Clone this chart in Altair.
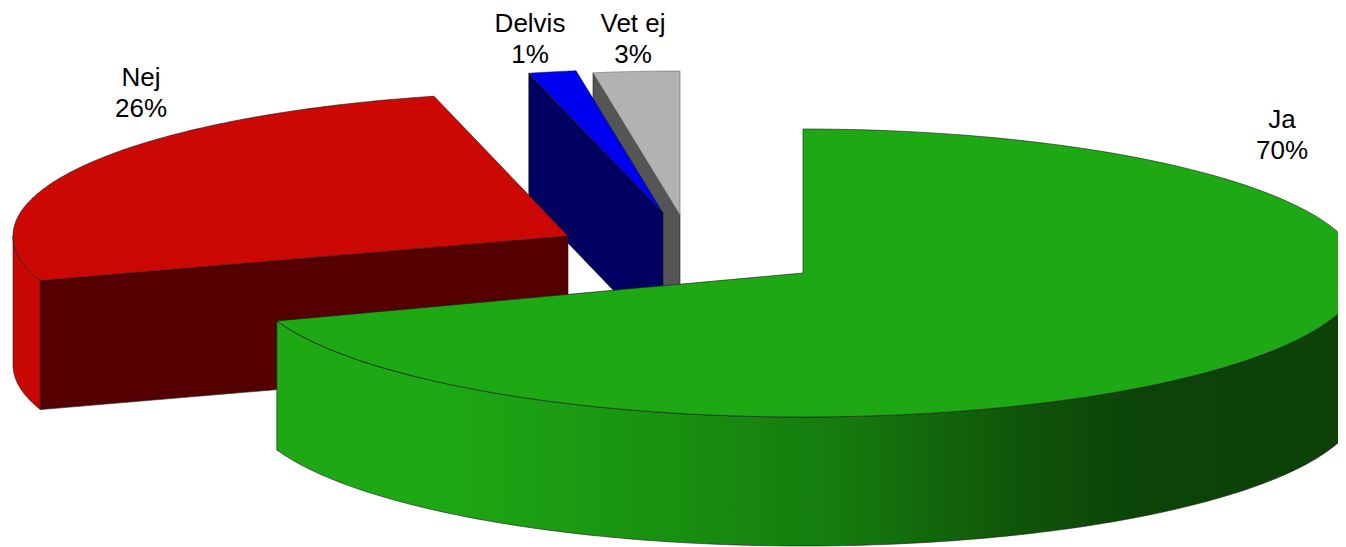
import numpy as np
import pandas as pd
import altair as alt

categories = ["Ja", "Nej", "Delvis", "Vet ej"]
shares = [69.6, 26.52, 1.38, 2.5]
label_pct = ["70%", "26%", "1%", "3%"]

RX, RY, DEPTH = 556.0, 144.0, 129.0
explode_apex = {"Ja": (803, 273), "Nej": (568, 236), "Delvis": (663, 213), "Vet ej": (680, 215)}
label_xy = {"Ja": (1282, 120), "Nej": (141, 78), "Delvis": (530, 24), "Vet ej": (633, 24)}
# the original's perspective changes the radius of the slices a little
start_shift = {"Nej": 1.4}
rx_of = {"Nej": 555.0, "Ja": 558.0}

cum = np.cumsum([0] + shares) * 3.6
spans = {c: (cum[i] + start_shift.get(c, 0.0), cum[i + 1]) for i, c in enumerate(categories)}

xs = alt.X("x:Q", axis=None, scale=alt.Scale(domain=[8, 1338], range=[0, 1330], nice=False, zero=False))
ys = alt.Y("y:Q", axis=None, scale=alt.Scale(domain=[8, 547], range=[0, 539], nice=False, zero=False))


def rim(cat, a0, a1, dz=0.0, n=160):
    ax, ay = explode_apex[cat]
    t = np.radians(np.linspace(a0, a1, n))
    return list(zip(ax + rx_of.get(cat, RX) * np.sin(t), ay - RY * np.cos(t) + dz))


def poly(points, fill, stroke="#1a1a1a", width=0.6):
    points = list(points) + [points[0]]
    df = pd.DataFrame(points, columns=["x", "y"])
    df["i"] = range(len(df))
    return alt.Chart(df).mark_line(
        fill=fill, stroke=stroke, strokeWidth=width, clip=True, interpolate="linear"
    ).encode(x=xs, y=ys, order=alt.Order("i:Q"))


def top(cat, fill, **kw):
    a0, a1 = spans[cat]
    return poly([explode_apex[cat]] + rim(cat, a0, a1), fill, **kw)


def radial(cat, angle, fill):
    ax, ay = explode_apex[cat]
    e = rim(cat, angle, angle, n=1)[0]
    return poly([(ax, ay), e, (e[0], e[1] + DEPTH), (ax, ay + DEPTH)], fill)


def wall(cat, a0, a1, fill):
    return poly(rim(cat, a0, a1) + rim(cat, a1, a0, DEPTH), fill)


ja_grad = alt.Gradient(
    gradient="linear", x1=0, x2=1, y1=0, y2=0,
    stops=[
        alt.GradientStop(offset=0.0, color="#1ea814"),
        alt.GradientStop(offset=0.15, color="#1ea814"),
        alt.GradientStop(offset=0.365, color="#189010"),
        alt.GradientStop(offset=0.525, color="#157a0d"),
        alt.GradientStop(offset=0.684, color="#0f5509"),
        alt.GradientStop(offset=0.79, color="#0c4408"),
        alt.GradientStop(offset=1.0, color="#0c4008"),
    ],
)

layers = [
    radial("Vet ej", spans["Delvis"][1], "#555555"),
    top("Vet ej", "#b2b2b2", stroke="#666666"),
    radial("Delvis", spans["Delvis"][0], "#000060"),
    top("Delvis", "#0000f0"),
    wall("Nej", spans["Nej"][0], 270, "#c80804"),
    radial("Nej", spans["Nej"][0], "#550000"),
    top("Nej", "#cc0804"),
    wall("Ja", 90, spans["Ja"][1], ja_grad),
    top("Ja", "#1ea814"),
]

labels = pd.DataFrame(
    [{"x": label_xy[c][0], "y": label_xy[c][1], "t": [c, p]} for c, p in zip(categories, label_pct)]
)
text = alt.Chart(labels).mark_text(
    font="Liberation Sans", fontSize=26, color="#000000", lineHeight=31, align="center", baseline="middle"
).encode(x=xs, y=ys, text="t")

chart = alt.layer(*layers, text).properties(
    width=1330, height=539, padding=0, autosize=alt.AutoSizeParams(type="none"), background="white"
).configure_view(stroke=None)

chart.save("out.html", embed_options={"renderer": "svg", "actions": False})
